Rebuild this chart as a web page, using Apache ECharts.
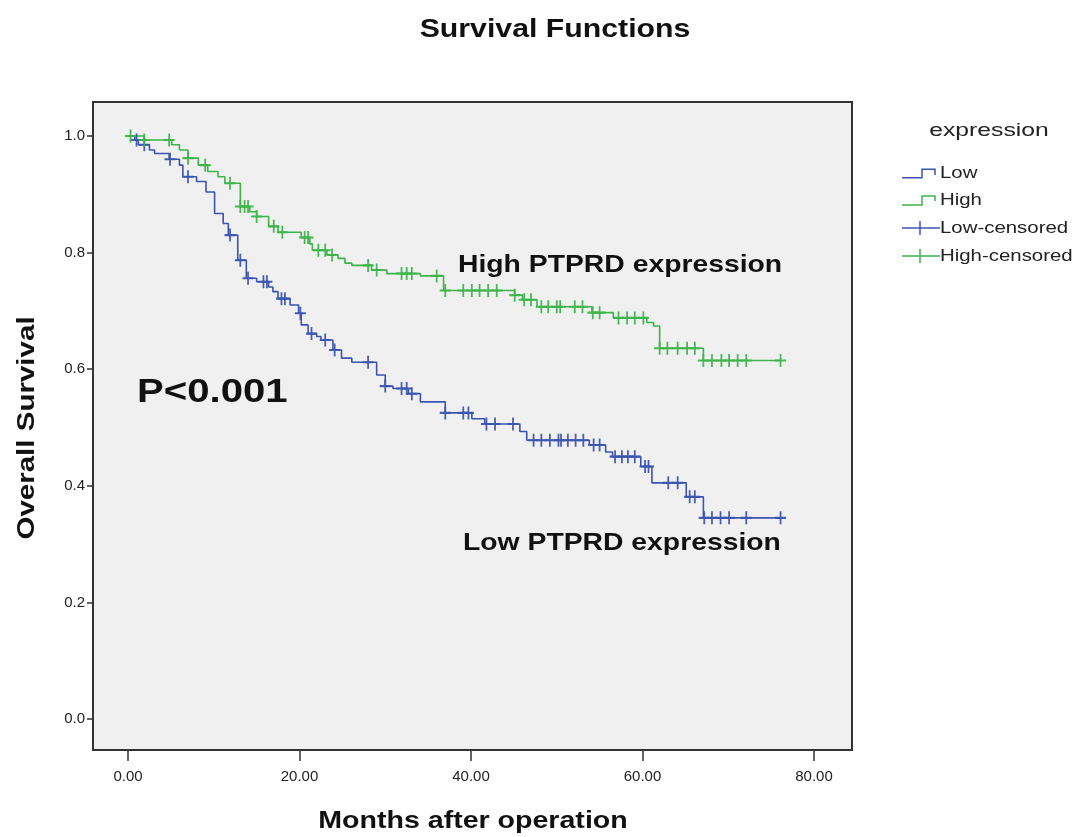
<!DOCTYPE html>
<html>
<head>
<meta charset="utf-8">
<script src="https://cdn.jsdelivr.net/npm/echarts@6/dist/echarts.min.js"></script>
<style>
html,body{margin:0;padding:0;background:#fff;}
#chart{width:1079px;height:837px;}
</style>
</head>
<body>
<div id="chart"></div>
<script>
// ---- data ----
const lowTimes = [0, 0.8, 1.2, 2.5, 3.1, 4.8, 6.0, 6.4, 8.0, 9.1, 10.1, 11.1, 11.7, 12.8, 13.8, 15.0, 16.4, 16.9, 17.5, 18.9, 19.9, 20.2, 21.0, 22.0, 22.5, 23.9, 24.9, 26.1, 29.0, 30.0, 30.9, 32.7, 34.1, 37.0, 40.1, 41.6, 45.7, 46.5, 53.8, 55.7, 56.5, 59.8, 61.1, 65.1, 67.1, 76.1];
const lowSurv  = [1.0, 0.993, 0.985, 0.976, 0.970, 0.960, 0.950, 0.930, 0.922, 0.904, 0.867, 0.850, 0.830, 0.787, 0.756, 0.750, 0.741, 0.733, 0.721, 0.710, 0.696, 0.676, 0.661, 0.656, 0.650, 0.633, 0.619, 0.612, 0.590, 0.571, 0.567, 0.558, 0.544, 0.525, 0.515, 0.506, 0.493, 0.478, 0.470, 0.458, 0.450, 0.433, 0.405, 0.381, 0.345, 0.345];
const highTimes = [0, 1.9, 5.1, 6.0, 7.0, 8.2, 9.3, 10.5, 11.3, 13.1, 14.2, 15.0, 16.4, 17.5, 20.2, 21.2, 21.5, 23.2, 24.5, 25.3, 26.1, 28.4, 30.2, 34.1, 36.8, 45.1, 46.0, 47.7, 54.1, 56.6, 60.5, 61.3, 62.0, 67.1, 76.1];
const highSurv  = [1.0, 0.993, 0.985, 0.976, 0.962, 0.950, 0.939, 0.930, 0.919, 0.879, 0.870, 0.862, 0.845, 0.835, 0.826, 0.815, 0.804, 0.796, 0.790, 0.782, 0.778, 0.770, 0.764, 0.760, 0.735, 0.727, 0.719, 0.707, 0.697, 0.688, 0.680, 0.674, 0.636, 0.615, 0.615];
const lowCensored = [1.0, 1.9, 4.9, 7.0, 11.9, 13.1, 14.0, 15.8, 16.2, 17.9, 18.3, 20.1, 21.4, 23.0, 24.1, 28.0, 30.0, 31.9, 32.5, 33.1, 37.0, 39.1, 39.7, 41.8, 42.8, 44.9, 47.3, 48.2, 49.2, 50.2, 50.5, 51.3, 52.2, 53.1, 54.3, 55.0, 56.8, 57.6, 58.3, 59.1, 60.3, 60.7, 63.0, 64.1, 65.5, 66.1, 67.2, 68.1, 69.1, 70.1, 72.1, 76.1];
const highCensored = [0.3, 1.9, 4.8, 7.0, 9.0, 11.9, 13.1, 13.6, 14.0, 15.0, 17.0, 18.0, 20.6, 21.0, 22.2, 23.0, 23.8, 28.0, 29.0, 31.9, 32.5, 33.1, 36.0, 37.0, 39.1, 40.1, 41.0, 42.0, 43.0, 45.1, 46.2, 47.0, 48.2, 49.0, 50.0, 50.4, 52.1, 53.0, 54.2, 55.0, 57.2, 58.2, 59.1, 60.1, 62.0, 62.9, 64.1, 65.2, 66.1, 67.1, 68.1, 69.2, 70.1, 71.1, 72.1, 76.1];
const xTicks = [0, 20, 40, 60, 80];
const yTicks = [0, 0.2, 0.4, 0.6, 0.8, 1.0];
const legendLabels = ['Low', 'High', 'Low-censored', 'High-censored'];

// ---- build ----
const LOW_C = '#3b54b0';
const HIGH_C = '#3cb44a';
const FONT = '"Liberation Sans", Arial, sans-serif';

function pairs(ts, ss){ return ts.map((t,i)=>[t, ss[i]]); }
function survAt(ts, ss, t){
  let v = ss[0];
  for (let i=0;i<ts.length;i++){ if (ts[i] <= t + 1e-9) v = ss[i]; }
  return v;
}
const CROSS = 'path://M4.2,0H5.8V4.2H10V5.8H5.8V10H4.2V5.8H0V4.2H4.2Z';

function txt(text, x, y, font, opts){
  opts = opts || {};
  return {
    type: 'text', x: x, y: y, z: 10,
    scaleX: opts.sx || 1, rotation: opts.rot || 0,
    style: {text: text, font: font, fill: opts.fill || '#111',
            align: opts.align || 'center', verticalAlign: 'middle'}
  };
}

const chart = echarts.init(document.getElementById('chart'), null, {renderer:'canvas'});
const option = {
  backgroundColor: '#ffffff',
  animation: false,
  grid: {
    left: 93, top: 102, width: 759, height: 648,
    show: true, backgroundColor: '#f0f0f0', borderColor: '#333', borderWidth: 2
  },
  xAxis: {
    type: 'value', min: -4.08, max: 84.43,
    axisLine: {show: true, onZero: false, lineStyle: {color: '#333', width: 2}},
    axisTick: {show: true, length: 11, customValues: xTicks, lineStyle: {color: '#333', width: 1.5}},
    axisLabel: {customValues: xTicks, formatter: v => v.toFixed(2), fontFamily: FONT, fontSize: 15, color: '#222', margin: 19},
    splitLine: {show: false}
  },
  yAxis: {
    type: 'value', min: -0.0532, max: 1.0583,
    axisLine: {show: true, onZero: false, lineStyle: {color: '#333', width: 2}},
    axisTick: {show: true, length: 6, customValues: yTicks, lineStyle: {color: '#333', width: 1.5}},
    axisLabel: {customValues: yTicks, formatter: v => v.toFixed(1), fontFamily: FONT, fontSize: 15, color: '#222', margin: 8},
    splitLine: {show: false}
  },
  series: [
    {name: 'Low', type: 'line', step: 'end', data: pairs(lowTimes, lowSurv), showSymbol: false,
     lineStyle: {color: LOW_C, width: 1.6}, z: 3},
    {name: 'High', type: 'line', step: 'end', data: pairs(highTimes, highSurv), showSymbol: false,
     lineStyle: {color: HIGH_C, width: 1.6}, z: 3},
    {name: 'Low-censored', type: 'scatter', symbol: CROSS, symbolSize: [11, 13],
     data: lowCensored.map(t => [t, survAt(lowTimes, lowSurv, t)]),
     itemStyle: {color: LOW_C, opacity: 0.95}, z: 4},
    {name: 'High-censored', type: 'scatter', symbol: CROSS, symbolSize: [11, 13],
     data: highCensored.map(t => [t, survAt(highTimes, highSurv, t)]),
     itemStyle: {color: HIGH_C, opacity: 0.95}, z: 4}
  ],
  graphic: [
    txt('Survival Functions', 555, 30, 'bold 25px ' + FONT, {sx: 1.21}),
    txt('Months after operation', 473, 821, 'bold 24px ' + FONT, {sx: 1.19}),
    txt('Overall Survival', 27, 428, 'bold 24px ' + FONT, {sx: 1.23, rot: Math.PI / 2}),
    txt('High PTPRD expression', 458, 265, 'bold 24px ' + FONT, {sx: 1.18, align: 'left'}),
    txt('Low PTPRD expression', 463, 543, 'bold 24px ' + FONT, {sx: 1.18, align: 'left'}),
    txt('P<0.001', 137, 393, 'bold 34px ' + FONT, {sx: 1.18, align: 'left'}),
    txt('expression', 989, 131, '19px ' + FONT, {sx: 1.3, fill: '#222'}),
    // legend entries
    {type: 'polyline', shape: {points: [[902,177.7],[922,177.7],[922,169.3],[935,169.3],[935,175]]}, style: {stroke: LOW_C, lineWidth: 1.5, fill: null}},
    txt(legendLabels[0], 940, 173, '17px ' + FONT, {sx: 1.2, align: 'left', fill: '#222'}),
    {type: 'polyline', shape: {points: [[902,205],[922,205],[922,196],[935,196],[935,201]]}, style: {stroke: HIGH_C, lineWidth: 1.5, fill: null}},
    txt(legendLabels[1], 940, 200, '17px ' + FONT, {sx: 1.2, align: 'left', fill: '#222'}),
    {type: 'line', shape: {x1: 902, y1: 228, x2: 940, y2: 228}, style: {stroke: LOW_C, lineWidth: 1.5}},
    {type: 'line', shape: {x1: 920, y1: 221, x2: 920, y2: 235}, style: {stroke: LOW_C, lineWidth: 1.5}},
    txt(legendLabels[2], 940, 228, '17px ' + FONT, {sx: 1.2, align: 'left', fill: '#222'}),
    {type: 'line', shape: {x1: 902, y1: 256, x2: 940, y2: 256}, style: {stroke: HIGH_C, lineWidth: 1.5}},
    {type: 'line', shape: {x1: 920, y1: 249, x2: 920, y2: 263}, style: {stroke: HIGH_C, lineWidth: 1.5}},
    txt(legendLabels[3], 940, 256, '17px ' + FONT, {sx: 1.2, align: 'left', fill: '#222'})
  ]
};
chart.setOption(option);
</script>
</body>
</html>
